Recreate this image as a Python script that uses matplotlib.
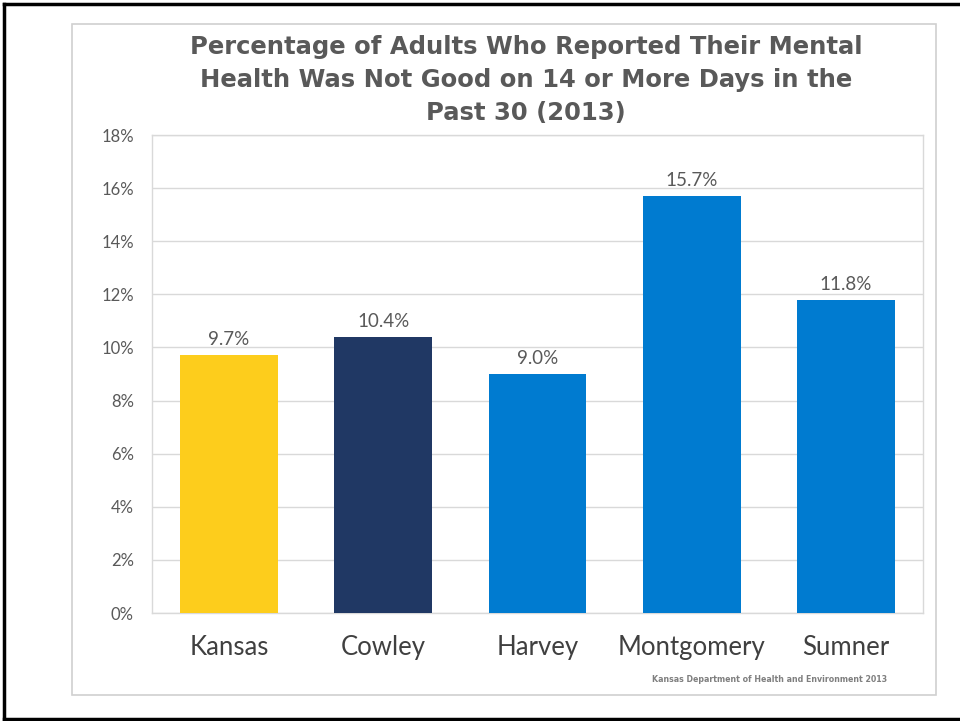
import matplotlib
matplotlib.use("Agg")
import matplotlib.pyplot as plt
from matplotlib.patches import Rectangle
from matplotlib.lines import Line2D
from matplotlib.ticker import FuncFormatter, MultipleLocator

counties = ["Kansas", "Cowley", "Harvey", "Montgomery", "Sumner"]
pct = [9.7, 10.4, 9.0, 15.7, 11.8]
bar_colors = ["#FDCD1C", "#203864", "#007BD0", "#007BD0", "#007BD0"]

title = ("Percentage of Adults Who Reported Their Mental\n"
         "Health Was Not Good on 14 or More Days in the\n"
         "Past 30 (2013)")
source = "Kansas Department of Health and Environment 2013"

W, H = 960, 721
fig = plt.figure(figsize=(W / 100, H / 100), dpi=100)

def fx(px):
    return px / W

def fy(py):
    return 1 - py / H

# slide border (left, top, bottom only)
for xs, ys in [([4, 4], [4, 719]), ([4, W], [4, 4]), ([4, W], [719, 719])]:
    fig.add_artist(Line2D([fx(x) for x in xs], [fy(y) for y in ys],
                          color="black", lw=2.5, transform=fig.transFigure))

# chart frame
fig.add_artist(Rectangle((fx(72), fy(695)), fx(936) - fx(72), fy(24) - fy(695),
                         fill=False, edgecolor="#d0d0d0", lw=1.2,
                         transform=fig.transFigure))

ax = fig.add_axes([fx(152), fy(613), fx(923) - fx(152), fy(135) - fy(613)])
x = range(len(counties))
bars = ax.bar(x, pct, width=0.635, color=bar_colors, zorder=3)

ax.set_xlim(-0.5, len(counties) - 0.5)
ax.set_ylim(0, 18)
ax.yaxis.set_major_locator(MultipleLocator(2))
ax.yaxis.set_major_formatter(FuncFormatter(lambda v, p: f"{v:.0f}%"))
ax.grid(axis="y", color="#d9d9d9", lw=1, zorder=0)
for s in ax.spines.values():
    s.set_color("#d9d9d9")
    s.set_linewidth(1)
ax.tick_params(length=0)
ax.tick_params(axis="y", pad=13, labelsize=12, labelcolor="#595959")
ax.tick_params(axis="x", pad=16, labelsize=18.5, labelcolor="#404040")
ax.set_xticks(list(x))
ax.set_xticklabels(counties, fontfamily="Lato")
for lab in ax.get_yticklabels():
    lab.set_fontfamily("Lato")

for b, v in zip(bars, pct):
    ax.annotate(f"{v:.1f}%", (b.get_x() + b.get_width() / 2, v),
                xytext=(0, 5), textcoords="offset points",
                ha="center", va="bottom", fontsize=13.5, color="#595959",
                fontfamily="Lato")

fig.text(fx(526), fy(80), title, ha="center", va="center", fontsize=17.5,
         fontweight="bold", color="#595959", linespacing=1.45,
         fontfamily="DejaVu Sans")
fig.text(fx(770), fy(680), source, ha="center", va="center", fontsize=5.7,
         fontweight="bold", color="#7f7f7f", fontfamily="DejaVu Sans Condensed")

fig.savefig("out.png", dpi=100)
